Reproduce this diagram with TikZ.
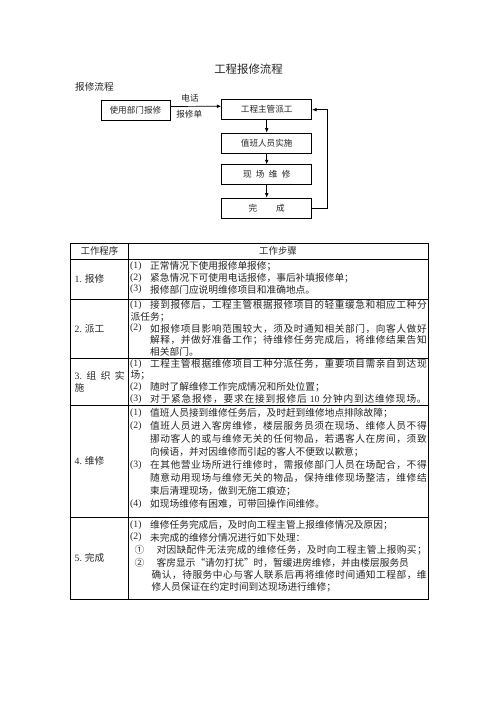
\documentclass[tikz,border=0pt]{standalone}
\usepackage{fontspec}
\setmainfont{Liberation Serif}
\newfontfamily\cjk{Noto Sans CJK SC}
\newfontfamily\lat{Liberation Serif}
\usetikzlibrary{arrows.meta}
\def\spEnd{<spread-end>}
\def\spread#1{\spreadA#1\spEnd}
\def\spreadA#1{#1\spreadB}
\def\spreadB#1{\ifx#1\spEnd\else\hfil#1\expandafter\spreadB\fi}
\newcommand\pl[4]{\node[num] (#1n) at (130,#2) {#3}; \node[txt] (#1) at (150,#2) {#4};}
\newcommand\pj[4]{\node[num] (#1n) at (130,#2) {#3}; \node[txt] (#1) at (150,#2) {\hbox to 276.5pt{\spread{#4}}};}
\newcommand\cl[4]{\node[txt] (#1) at (#2,#3) {#4};}
\newcommand\cj[4]{\node[txt] (#1) at (#2,#3) {\hbox to \dimexpr426.5pt-#2pt\relax{\spread{#4}}};}
\begin{document}
\begin{tikzpicture}[x=1pt,y=-1pt,
  box/.style={draw, line width=0.7pt, minimum width=90pt, minimum height=20pt, inner sep=0pt, font={\cjk\fontsize{8.6}{10}\selectfont}, text=black!85},
  lbl/.style={inner sep=0pt, font={\cjk\fontsize{8.6}{10}\selectfont}, text=black!85},
  txt/.style={anchor=west, inner sep=0pt, font={\cjk\fontsize{9.7}{11.6}\selectfont}, text=black!85},
  num/.style={anchor=west, inner sep=0pt, font={\lat\fontsize{9.7}{11.6}\selectfont}, text=black!85},
  arr/.style={-{Latex[length=4.5pt,width=3.6pt]}, line width=0.7pt},
  grid/.style={line width=0.75pt}]
\useasboundingbox[fill=white] (0,0) rectangle (496,702);

% ---------- flowchart ----------
\node[inner sep=0pt, font={\cjk\fontsize{11.4}{13}\selectfont}, text=black!85] (title) at (248.5,69) {工程报修流程};
\node[inner sep=0pt, anchor=west, font={\cjk\fontsize{9.6}{11}\selectfont}, text=black!85] (sub) at (75,87) {报修流程};

\node[box, minimum width=69pt] (b1) at (135.4,110) {使用部门报修};
\node[box] (b2) at (266.7,109.7) {工程主管派工};
\node[box] (b3) at (266.7,143) {值班人员实施};
\node[box] (b4) at (266.7,174.7) {现\hspace{4.3pt}场\hspace{4.3pt}维\hspace{4.3pt}修};
\node[box] (b5) at (266.7,208) {完\hspace{18.8pt}成};

\node[lbl] (l1) at (190,98.5) {电话};
\node[lbl] (l2) at (189.2,114.5) {报修单};

\draw[arr] ([yshift=3.5pt]b1.east) -- ([yshift=3.5pt]b2.west);
\draw[arr] (b2) -- (b3);
\draw[arr] (b3) -- (b4);
\draw[arr] (b4) -- (b5);
\draw[arr] (b5.east) -- ++(15,0) |- (b2.east);

% ---------- table ----------
\draw[grid] (70.7,243) rectangle (428.5,599);
\draw[grid] (128,243) -- (128,599);
\foreach \yy in {259,299,358,405,517} \draw[grid] (70.7,\yy) -- (428.5,\yy);

\node[inner sep=0pt, font={\cjk\fontsize{9.4}{11}\selectfont}, text=black!85] (h1) at (99.4,251) {工作程序};
\node[inner sep=0pt, font={\cjk\fontsize{9.4}{11}\selectfont}, text=black!85] (h2) at (278,251) {工作步骤};

% left column
\node[txt] (c1) at (74.5,279) {{\lat 1.} 报修};
\node[txt] (c2) at (74.5,329) {{\lat 2.} 派工};
\node[txt] (c3a) at (74.5,376) {\hbox to 50pt{{\lat 3.}\hfill 组\hfill 织\hfill 实}};
\node[txt] (c3b) at (74.5,388) {施};
\node[txt] (c4) at (74.5,461) {{\lat 4.} 维修};
\node[txt] (c5) at (74.5,558) {{\lat 5.} 完成};

% row 1
\pl{r1a}{266.5}{(1)}{正常情况下使用报修单报修；}
\pl{r1b}{278}{(2)}{紧急情况下可使用电话报修，事后补填报修单；}
\pl{r1c}{289.5}{(3)}{报修部门应说明维修项目和准确地点。}

% row 2
\pj{r2a}{305}{(1)}{接到报修后，工程主管根据报修项目的轻重缓急和相应工种分}
\cl{r2b}{130.5}{316.7}{派任务；}
\pj{r2c}{328.4}{(2)}{如报修项目影响范围较大，须及时通知相关部门，向客人做好}
\cj{r2d}{150}{340.1}{解释，并做好准备工作；待维修任务完成后，将维修结果告知}
\cl{r2e}{150}{351.8}{相关部门。}

% row 3
\pj{r3a}{364}{(1)}{工程主管根据维修项目工种分派任务，重要项目需亲自到达现}
\cl{r3b}{130.5}{375.7}{场；}
\pl{r3c}{387.4}{(2)}{随时了解维修工作完成情况和所处位置；}
\node[num] (r3dn) at (130,399.1) {(3)};
\node[txt] (r3d) at (150,399.1) {\hbox to 276.5pt{\spread{对于紧急报修，要求在接到报修后}\hfil\ {\lat 10}\ \hfil\spread{分钟内到达维修现场。}}};

% row 4
\pl{r4a}{413}{(1)}{值班人员接到维修任务后，及时赶到维修地点排除故障；}
\pj{r4b}{426}{(2)}{值班人员进入客房维修，楼层服务员须在现场、维修人员不得}
\cj{r4c}{150}{439}{挪动客人的或与维修无关的任何物品，若遇客人在房间，须致}
\cl{r4d}{150}{452}{向候语，并对因维修而引起的客人不便致以歉意；}
\pj{r4e}{465}{(3)}{在其他营业场所进行维修时，需报修部门人员在场配合，不得}
\cj{r4f}{150}{478}{随意动用现场与维修无关的物品，保持维修现场整洁，维修结}
\cl{r4g}{150}{491}{束后清理现场，做到无施工痕迹；}
\pl{r4h}{504}{(4)}{如现场维修有困难，可带回操作间维修。}

% row 5
\pl{r5a}{525}{(1)}{维修任务完成后，及时向工程主管上报维修情况及原因；}
\pl{r5b}{537.5}{(2)}{未完成的维修分情况进行如下处理：}
\cl{r5cn}{134.5}{550}{①}
\cj{r5c}{156.5}{550}{对因缺配件无法完成的维修任务，及时向工程主管上报购买；}
\cl{r5dn}{134.5}{562.5}{②}
\cl{r5d}{156.5}{562.5}{客房显示“请勿打扰”时，暂缓进房维修，并由楼层服务员}
\cj{r5e}{151.5}{575}{确认，待服务中心与客人联系后再将维修时间通知工程部，维}
\cl{r5f}{151.5}{587.5}{修人员保证在约定时间到达现场进行维修；}
\end{tikzpicture}
\end{document}
